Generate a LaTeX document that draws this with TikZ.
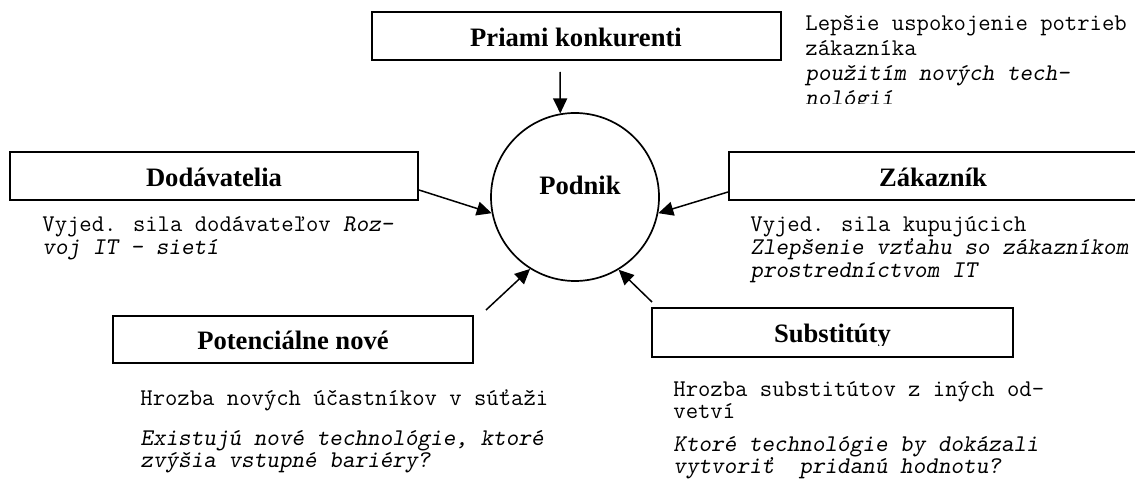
\documentclass[tikz,border=0pt]{standalone}
\usepackage{fontspec}
\setmainfont{Liberation Serif}
\usetikzlibrary{arrows.meta}

\tikzset{
  force/.style={draw, rectangle, line width=1pt, inner sep=0pt,
    text height=10.5pt, text depth=0pt,
    font=\fontsize{13.3}{16}\selectfont\bfseries},
  forcetext/.style={inner sep=0pt, text height=10.5pt, text depth=0pt,
    font=\fontsize{13.3}{16}\selectfont\bfseries},
  firm/.style={draw, circle, line width=0.85pt, minimum size=84pt, inner sep=0pt},
  % notes are placed by the baseline of their last line
  note/.style={anchor=base west, align=left, inner sep=0pt,
    font=\fontsize{12}{#1}\selectfont\ttfamily},
  note/.default=11.5pt,
  push/.style={-{Triangle[length=7.5pt,width=7pt]}, line width=0.75pt},
}

\begin{document}
\begin{tikzpicture}[x=0.5pt,y=-0.5pt]
\fill[white] (0,0) rectangle (1135,486);
\clip (0,0) rectangle (1135,486);

% the firm in the middle
\node[firm] (podnik) at (575,197) {};
\node[anchor=base, inner sep=0pt, font=\fontsize{13.3}{16}\selectfont\bfseries]
  (podniklabel) at (580,195) {Podnik};

% the five forces
\node[force, minimum width=204.5pt, minimum height=24pt] (priami) at (576,36) {Priami konkurenti};
\node[force, minimum width=204pt, minimum height=24pt] (dod) at (214,176) {Dodávatelia};
\node[force, minimum width=204pt, minimum height=24pt] (zak) at (933,176) {Zákazník};
\node[force, minimum width=180pt, minimum height=23.5pt] (pot) at (293,339.5) {Potenciálne nové};
\node[force, minimum width=180.5pt, minimum height=24.5pt] (sub) at (832.5,332.5) {};
\begin{scope}
  \clip (652,300) rectangle (1013,345.5);
  \node[forcetext] (subtext) at (sub) {Substitúty};
\end{scope}

% arrows towards the firm
\draw[push] ([shift={(-8pt,-5.5pt)}]priami.south) -- (podnik.100.6);
\draw[push] ([yshift=-7pt]dod.east) -- (podnik.191.3);
\draw[push] ([yshift=-8pt]zak.west) -- (podnik.349.2);
\draw[push] ([shift={(6pt,2.5pt)}]pot.north east) -- (podnik.238.4);
\draw[push] ([shift={(0.5pt,2.5pt)}]sub.north west) -- (podnik.301);

% notes
\begin{scope}
  \clip (780,0) rectangle (1135,104);
  \node[note=12.5pt] (priaminote) at (805,106)
    {Lepšie uspokojenie potrieb\\zákazníka\\\textsl{použitím nových tech-}\\\textsl{nológií}};
\end{scope}

\node[note] (dodnote) at (42,255)
  {Vyjed. sila dodávateľov \textsl{Roz-}\\\textsl{voj IT - sietí}};

\node[note] (zaknote) at (750,278)
  {Vyjed. sila kupujúcich\\\textsl{Zlepšenie vzťahu so zákazníkom}\\\textsl{prostredníctvom IT}};

\node[note=10.75pt] (potnote) at (140,467)
  {Hrozba nových účastníkov v súťaži\\[9.25pt]\textsl{Existujú nové technológie, ktoré}\\\textsl{zvýšia vstupné bariéry?}};

\node[note=11pt] (subnote) at (673,473)
  {Hrozba substitútov z iných od-\\vetví\\[5.5pt]\textsl{Ktoré technológie by dokázali}\\\textsl{vytvoriť\ \ pridanú hodnotu?}};

\end{tikzpicture}
\end{document}
